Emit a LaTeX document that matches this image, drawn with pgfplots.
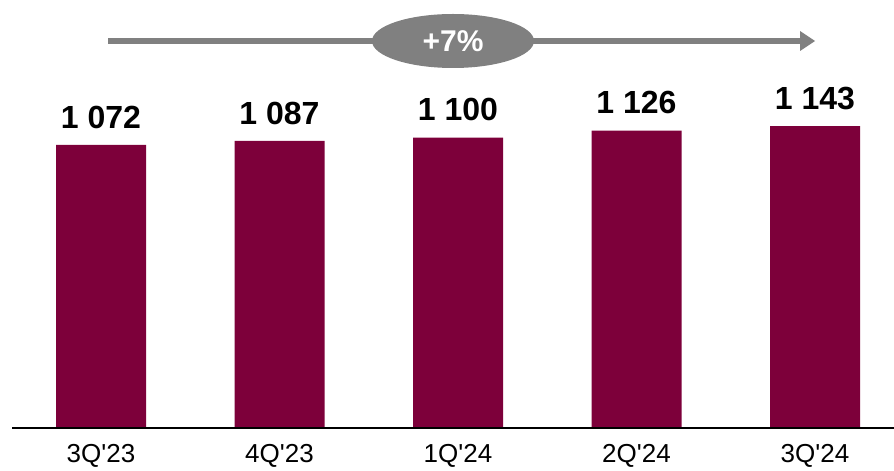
\documentclass[border=0pt]{standalone}
\usepackage{pgfplots}
\pgfplotsset{compat=1.18}
\usepackage{fontspec}
\setmainfont{Liberation Sans}
\usetikzlibrary{arrows.meta}
\definecolor{bar}{HTML}{7D003A}
\definecolor{arr}{HTML}{808080}
\newcommand{\q}{\textquotesingle}
\begin{document}
\begin{tikzpicture}
\useasboundingbox (0,0) rectangle (894pt,471pt);
\begin{axis}[
  at={(12pt,43pt)}, anchor=south west,
  scale only axis, width=882pt, height=428pt,
  xmin=-0.4986, xmax=4.4426, ymin=0, ymax=1621,
  axis lines=none,
  ybar, bar width=90pt,
  nodes near coords,
  every node near coord/.append style={font=\fontsize{32}{38}\selectfont\bfseries, black, yshift=13pt,
    /pgf/number format/.cd, assume math mode=true},
  nodes near coords={\pgfmathprintnumber[1000 sep={\ }]{\pgfplotspointmeta}},
  clip=false,
]
\addplot[fill=bar, draw=none] coordinates {(0,1072) (1,1087) (2,1100) (3,1126) (4,1143)};
\draw[black, line width=1.2pt] (axis cs:-0.4986,0) -- (axis cs:4.4426,0);
\node[font=\fontsize{26}{30}\selectfont] at (axis cs:0,0) [yshift=-28pt] {3Q\q23};
\node[font=\fontsize{26}{30}\selectfont] at (axis cs:1,0) [yshift=-28pt] {4Q\q23};
\node[font=\fontsize{26}{30}\selectfont] at (axis cs:2,0) [yshift=-28pt] {1Q\q24};
\node[font=\fontsize{26}{30}\selectfont] at (axis cs:3,0) [yshift=-28pt] {2Q\q24};
\node[font=\fontsize{26}{30}\selectfont] at (axis cs:4,0) [yshift=-28pt] {3Q\q24};
\end{axis}
\draw[arr, line width=6pt] (108pt,430pt) -- (802pt,430pt);
\fill[arr] (800pt,440pt) -- (815pt,430pt) -- (800pt,420pt) -- cycle;
\fill[arr] (453pt,430pt) ellipse (81pt and 27pt);
\node[white, font=\fontsize{30}{36}\selectfont\bfseries] at (453pt,430pt) {+7\%};
\end{tikzpicture}
\end{document}
